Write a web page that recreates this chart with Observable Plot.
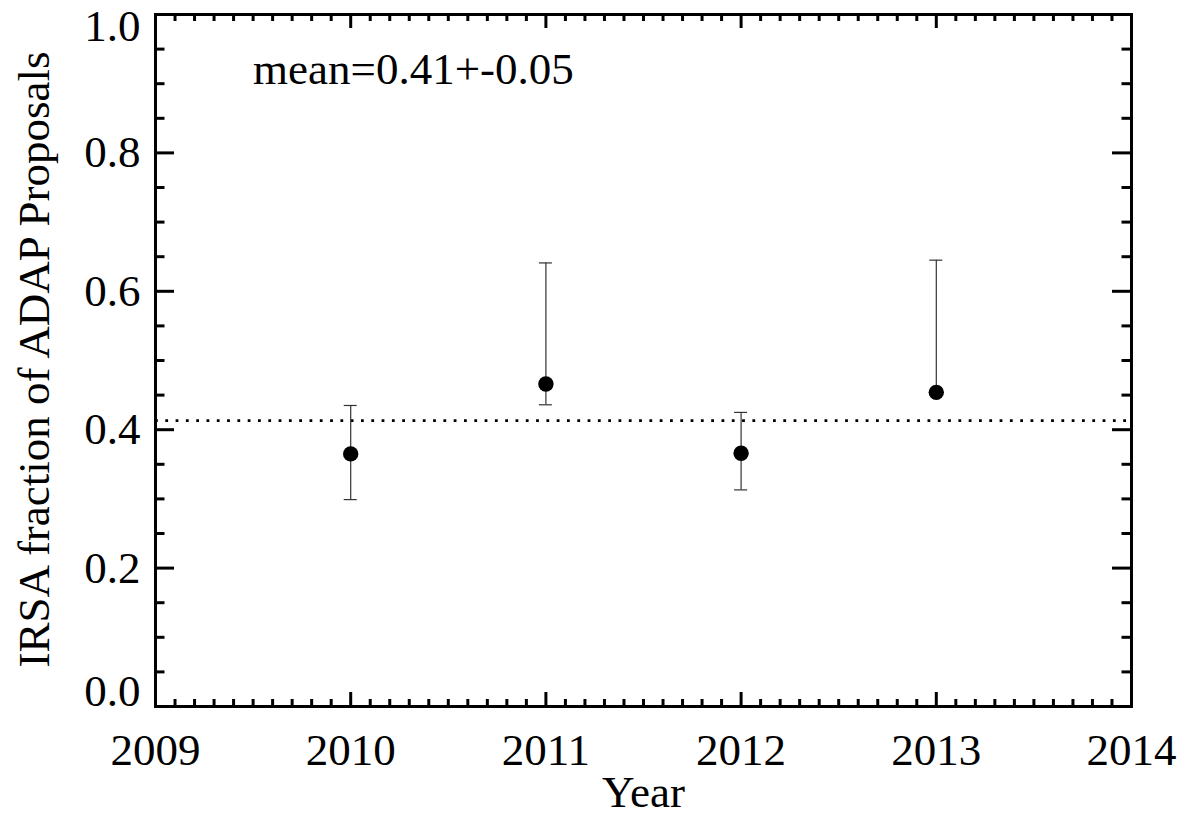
<!DOCTYPE html>
<html>
<head>
<meta charset="utf-8">
<script src="https://cdn.jsdelivr.net/npm/d3@7"></script>
<script src="https://cdn.jsdelivr.net/npm/@observablehq/plot@0.6"></script>
<style>
  html, body { margin: 0; padding: 0; background: #fff; }
  #chart svg { display: block; }
</style>
</head>
<body>
<div id="chart"></div>
<script>
// ---- data ----
const years   = [2010, 2011, 2012, 2013];
const frac    = [0.365, 0.466, 0.366, 0.454];
const errLow  = [0.299, 0.436, 0.313, 0.450];
const errHigh = [0.435, 0.641, 0.425, 0.645];
const meanValue = 0.413;
const meanLabel = "mean=0.41+-0.05";
const meanLabelX = 2009.5;
const meanLabelY = 0.9;

// ---- axes / ticks ----
const xMajorTicks = [2009, 2010, 2011, 2012, 2013, 2014];
const yMajorTicks = [0.0, 0.2, 0.4, 0.6, 0.8, 1.0];
const yInnerLabels = [0.2, 0.4, 0.6, 0.8];
const yBottomLabel = [0.0];
const yTopLabel = [1.0];
const xMinorTicks = d3.range(2009, 2014.0001, 0.1).map(v => +v.toFixed(1)).filter(v => !Number.isInteger(v));
const yMinorTicks = d3.range(0, 1.0001, 0.05).map(v => +v.toFixed(2)).filter(v => Math.abs(v * 5 - Math.round(v * 5)) > 1e-6);
const xTitle = "Year";
const yTitle = "IRSA fraction of ADAP Proposals";

const rows = years.map((y, i) => ({year: y, value: frac[i], lo: errLow[i], hi: errHigh[i]}));

// ---- layout ----
const W = 1181, H = 817;
const mL = 155, mR = 50, mT = 14, mB = 111;
const innerW = W - mL - mR, innerH = H - mT - mB;
const font = "'Liberation Serif', 'Times New Roman', 'DejaVu Serif', serif";
const fs = 45;
const xMaj = 14, xMin = 7, yMaj = 19, yMin = 9.5;
const fmtY = d => d.toFixed(1);

const chart = Plot.plot({
  width: W, height: H,
  marginLeft: mL, marginRight: mR, marginTop: mT, marginBottom: mB,
  x: {domain: [2009, 2014]},
  y: {domain: [0, 1]},
  style: {fontFamily: font, fontSize: fs + "px", color: "black", background: "white"},
  marks: [
    // mean line
    Plot.ruleY([meanValue], {stroke: "black", strokeWidth: 2.8, strokeDasharray: "2.8,7.5"}),
    // error bars
    Plot.ruleX(rows, {x: "year", y1: "lo", y2: "hi", stroke: "#333", strokeWidth: 1.2}),
    Plot.ruleY(rows, {y: "hi", x1: "year", x2: "year", insetLeft: -6.5, insetRight: -6.5, stroke: "#333", strokeWidth: 1.2}),
    Plot.ruleY(rows, {y: "lo", x1: "year", x2: "year", insetLeft: -6.5, insetRight: -6.5, stroke: "#333", strokeWidth: 1.2}),
    // points
    Plot.dot(rows, {x: "year", y: "value", r: 7.7, fill: "black", stroke: null}),
    // ticks (inward, all four sides)
    Plot.tickX(xMajorTicks, {x: d => d, insetTop: innerH - xMaj, strokeWidth: 3}),
    Plot.tickX(xMinorTicks, {x: d => d, insetTop: innerH - xMin, strokeWidth: 3}),
    Plot.tickX(xMajorTicks, {x: d => d, insetBottom: innerH - xMaj, strokeWidth: 3}),
    Plot.tickX(xMinorTicks, {x: d => d, insetBottom: innerH - xMin, strokeWidth: 3}),
    Plot.tickY(yMajorTicks, {y: d => d, insetRight: innerW - yMaj, strokeWidth: 3}),
    Plot.tickY(yMinorTicks, {y: d => d, insetRight: innerW - yMin, strokeWidth: 3}),
    Plot.tickY(yMajorTicks, {y: d => d, insetLeft: innerW - yMaj, strokeWidth: 3}),
    Plot.tickY(yMinorTicks, {y: d => d, insetLeft: innerW - yMin, strokeWidth: 3}),
    // frame
    Plot.frame({stroke: "black", strokeWidth: 3}),
    // tick labels
    Plot.axisX({ticks: xMajorTicks, tickSize: 0, tickPadding: 27, tickFormat: d => String(d), fontSize: fs, fontFamily: font, label: null}),
    Plot.axisY({ticks: yInnerLabels, tickSize: 0, tickPadding: 15, tickFormat: fmtY, fontSize: fs, fontFamily: font, label: null}),
    Plot.axisY({ticks: yBottomLabel, tickSize: 0, tickPadding: 15, tickFormat: fmtY, fontSize: fs, fontFamily: font, label: null, dy: -15}),
    Plot.axisY({ticks: yTopLabel, tickSize: 0, tickPadding: 15, tickFormat: fmtY, fontSize: fs, fontFamily: font, label: null, dy: 12}),
    // axis titles
    Plot.text([xTitle], {frameAnchor: "bottom", dy: 100, textAnchor: "middle", lineAnchor: "bottom", text: d => d, fontSize: fs, fontFamily: font, fill: "black"}),
    Plot.text([yTitle], {frameAnchor: "left", rotate: -90, dx: -107, dy: -1, textAnchor: "middle", lineAnchor: "bottom", text: d => d, fontSize: fs, fontFamily: font, fill: "black"}),
    // annotation
    Plot.text([meanLabel], {x: meanLabelX, y: meanLabelY, text: d => d, textAnchor: "start", lineAnchor: "bottom", fontSize: fs, fontFamily: font, fill: "black"})
  ]
});
document.getElementById("chart").appendChild(chart);
</script>
</body>
</html>
